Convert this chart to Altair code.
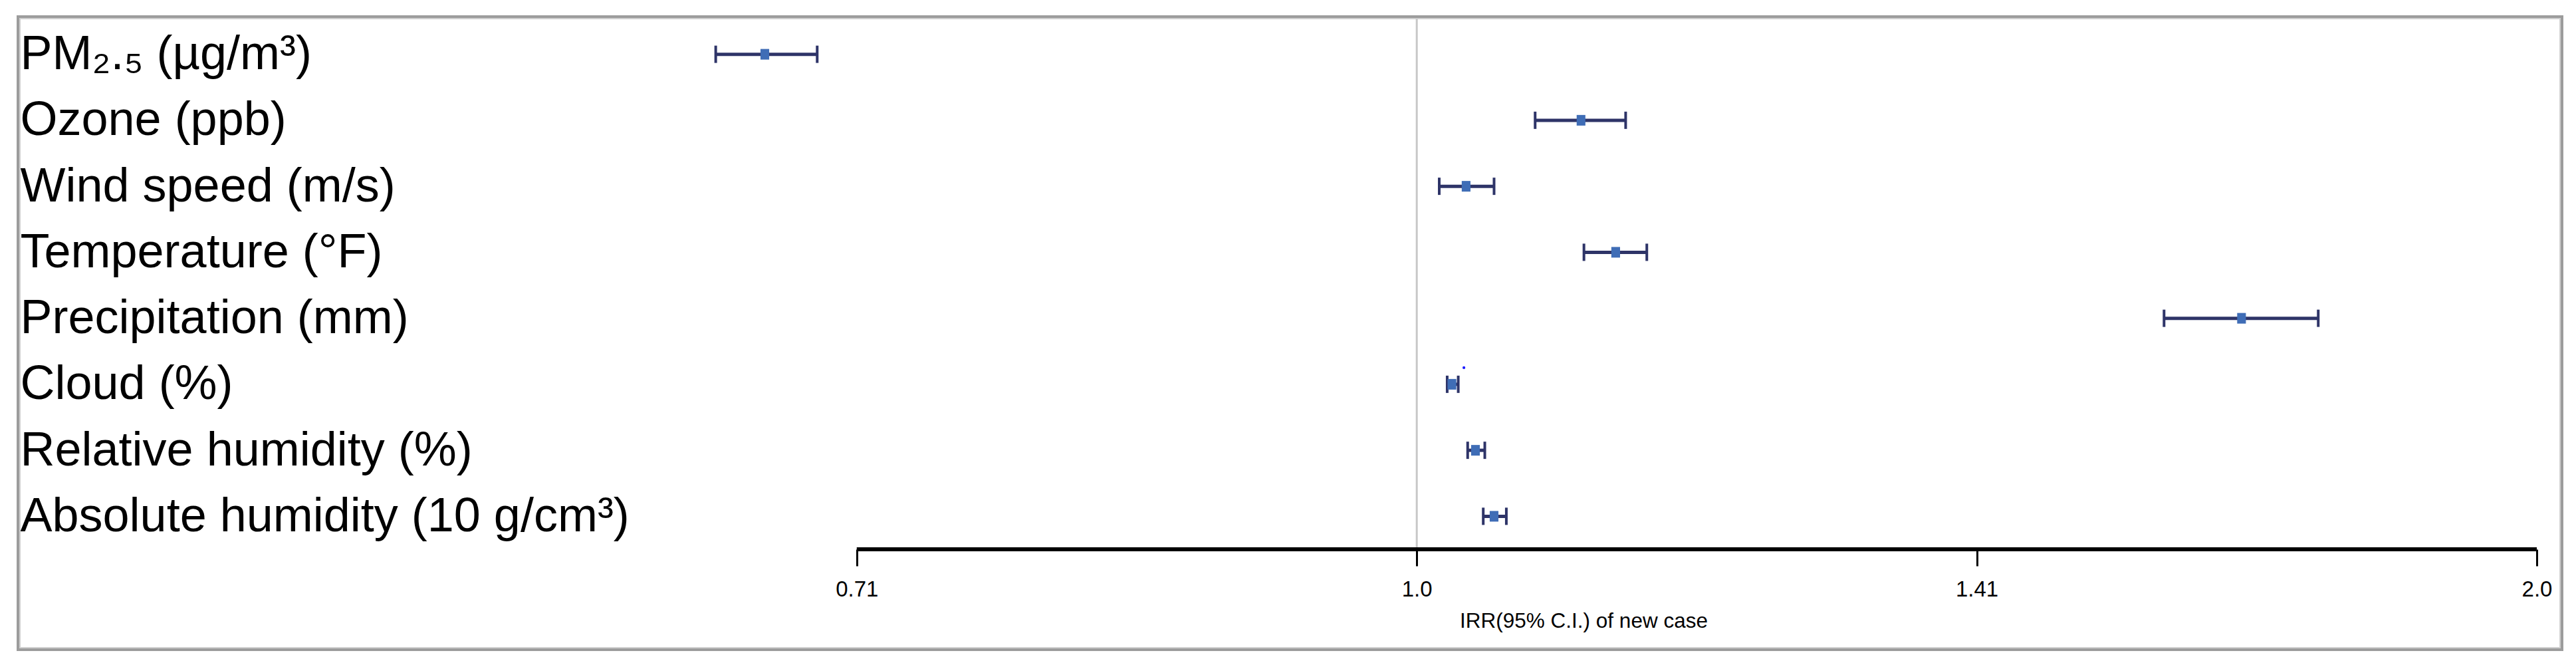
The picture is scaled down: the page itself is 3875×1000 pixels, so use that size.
import altair as alt
import pandas as pd

# ---- data ----
labels = [
    "PM₂.₅ (µg/m³)",
    "Ozone (ppb)",
    "Wind speed (m/s)",
    "Temperature (°F)",
    "Precipitation (mm)",
    "Cloud (%)",
    "Relative humidity (%)",
    "Absolute humidity (10 g/cm³)",
]
irr = [0.668, 1.107, 1.031, 1.131, 1.666, 1.022, 1.037, 1.049]
lower = [0.648, 1.076, 1.014, 1.109, 1.588, 1.019, 1.032, 1.042]
upper = [0.690, 1.138, 1.049, 1.153, 1.747, 1.026, 1.043, 1.057]

tick_values = [0.7071, 1.0, 1.4142, 2.0]
tick_labels = ["0.71", "1.0", "1.41", "2.0"]

stray_label = ["Cloud (%)"]
stray_value = [1.0296]

x_domain = [0.6146, 2.0]
axis_title = "IRR(95% C.I.) of new case"

df = pd.DataFrame({"label": labels, "irr": irr, "lower": lower, "upper": upper})
stray = pd.DataFrame({"label": stray_label, "x": stray_value})
one = pd.DataFrame({"a": [0]})

W, H = 2868, 794
FONT = "Liberation Sans"
NAVY = "#2E3468"
BLUE = "#3F6DB6"

label_expr = ""
for v, t in zip(tick_values, tick_labels):
    label_expr += f"abs(datum.value - {v}) < 0.001 ? '{t}' : "
label_expr += "''"

xscale = alt.Scale(type="log", base=2, domain=x_domain, nice=False)
xaxis = alt.Axis(
    values=tick_values,
    labelExpr=label_expr,
    domain=False,
    grid=False,
    ticks=True,
    tickSize=25,
    tickWidth=3,
    tickColor="black",
    labelFontSize=33,
    labelFont=FONT,
    labelColor="black",
    labelPadding=19,
    labelFlush=False,
    labelOverlap=False,
    titleFontSize=31.5,
    titleFont=FONT,
    titleFontWeight="normal",
    titleColor="black",
    titlePadding=15,
)
yscale = alt.Scale(type="point", padding=0.5)
yaxis = alt.Axis(
    title=None,
    domain=False,
    ticks=False,
    tickSize=0,
    grid=False,
    labelAlign="left",
    labelBaseline="middle",
    labelPadding=918,
    labelFontSize=72,
    labelFont=FONT,
    labelColor="black",
    labelLimit=3000,
)


def X(field):
    return alt.X(field, type="quantitative", scale=xscale, axis=xaxis, title=axis_title)


def Y():
    return alt.Y("label:N", sort=labels, scale=yscale, axis=yaxis)


frame_outer = alt.Chart(one).mark_rect(
    fillOpacity=0, stroke="#9c9c9c", strokeWidth=4
).encode(x=alt.value(-921), x2=alt.value(2906), y=alt.value(-7), y2=alt.value(945))

frame_inner = alt.Chart(one).mark_rect(
    fillOpacity=0, stroke="#d0d0d0", strokeWidth=2
).encode(x=alt.value(-918), x2=alt.value(2903), y=alt.value(-4), y2=alt.value(942))

ref_line = alt.Chart(one).mark_rule(color="#c8c8c8", strokeWidth=3).encode(
    x=alt.datum(1.0), y=alt.value(-4), y2=alt.value(H)
)

axis_line = alt.Chart(one).mark_rule(color="black", strokeWidth=6).encode(
    x=alt.datum(tick_values[0]), x2=alt.datum(tick_values[-1]), y=alt.value(H)
)

bars = alt.Chart(df).mark_rule(color=NAVY, strokeWidth=5).encode(
    x=X("lower"), x2="upper", y=Y()
)

cap_lo = alt.Chart(df).mark_tick(color=NAVY, thickness=4, size=26, opacity=1).encode(
    x=X("lower"), y=Y()
)
cap_hi = alt.Chart(df).mark_tick(color=NAVY, thickness=4, size=26, opacity=1).encode(
    x=X("upper"), y=Y()
)

points = alt.Chart(df).mark_point(
    shape="M-0.82,-1H0.82V1H-0.82Z", filled=True, size=256, color=BLUE, opacity=1,
    strokeWidth=0
).encode(x=X("irr"), y=Y())

stray_pt = alt.Chart(stray).mark_circle(color="#1a1aff", size=18, opacity=1, yOffset=-25).encode(
    x=X("x"), y=Y()
)

chart = alt.layer(
    frame_outer, frame_inner, ref_line, axis_line, bars, cap_lo, cap_hi, points, stray_pt
).properties(
    width=W,
    height=H,
    autosize=alt.AutoSizeParams(type="none"),
    padding={"left": 940, "top": 24, "right": 45, "bottom": 160},
    background="white",
).configure_view(stroke=None)

chart.save("out.html", embed_options={"renderer": "svg", "actions": False})
